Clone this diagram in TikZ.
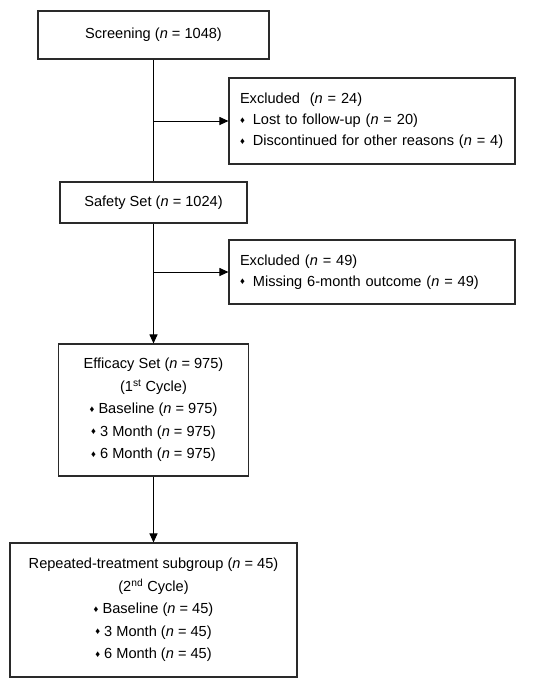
\documentclass[tikz,border=0pt]{standalone}
\usepackage{fontspec}
\setmainfont{Liberation Sans}
\usepackage{tikz}
\usetikzlibrary{arrows.meta, positioning, calc}
\definecolor{cline}{HTML}{2A2A2A}
\newcommand{\dia}{\raisebox{1.4pt}{\fontsize{9.5}{9.5}\selectfont ♦}}
\newcommand{\nn}{\textit{n}}

\begin{document}
\begin{tikzpicture}[
    x=1pt, y=-1pt,
    font=\fontsize{14.6}{22.5}\selectfont,
    box/.style={rectangle, draw=cline, line width=1.1pt, align=center,
                inner sep=0pt, fill=white},
    exbox/.style={box, minimum width=286pt, text width=264pt, align=left,
                  font=\fontsize{14.6}{21}\selectfont},
    arr/.style={line width=1pt, -{Triangle[length=9pt, width=8pt]}},
    link/.style={line width=1pt},
]
\useasboundingbox (0,0) rectangle (550,686);

\node[box, minimum width=231pt, minimum height=48pt] (screen) at (153.5,35)
    {Screening (\nn{} = 1048)};
\node[exbox, minimum height=86pt] (excl1) at (372,121)
    {Excluded\ \ (\nn{} = 24)\\
     \dia\hspace{8pt}Lost to follow-up (\nn{} = 20)\\
     \dia\hspace{8pt}Discontinued for other reasons (\nn{} = 4)};
\node[box, minimum width=187pt, minimum height=41pt] (safety) at (153.5,202.5)
    {Safety Set (\nn{} = 1024)};
\node[exbox, minimum height=64pt] (excl2) at (372,272)
    {Excluded (\nn{} = 49)\\
     \dia\hspace{8pt}Missing 6-month outcome (\nn{} = 49)};
\node[box, minimum width=190pt, minimum height=132pt] (efficacy) at (153.5,410)
    {Efficacy Set (\nn{} = 975)\\
     (1\textsuperscript{st} Cycle)\\
     \dia\ Baseline (\nn{} = 975)\\
     \dia\ 3 Month (\nn{} = 975)\\
     \dia\ 6 Month (\nn{} = 975)};
\node[box, minimum width=287pt, minimum height=134pt] (repeat) at (153.5,610)
    {Repeated-treatment subgroup (\nn{} = 45)\\
     (2\textsuperscript{nd} Cycle)\\
     \dia\ Baseline (\nn{} = 45)\\
     \dia\ 3 Month (\nn{} = 45)\\
     \dia\ 6 Month (\nn{} = 45)};

% main flow
\draw[link] (screen) -- (safety);
\draw[arr] (safety) -- (efficacy);
\draw[arr] (efficacy) -- (repeat);

% exclusions
\draw[arr] (screen.south |- excl1.west) -- (excl1.west);
\draw[arr] (safety.south |- excl2.west) -- (excl2.west);
\end{tikzpicture}
\end{document}
